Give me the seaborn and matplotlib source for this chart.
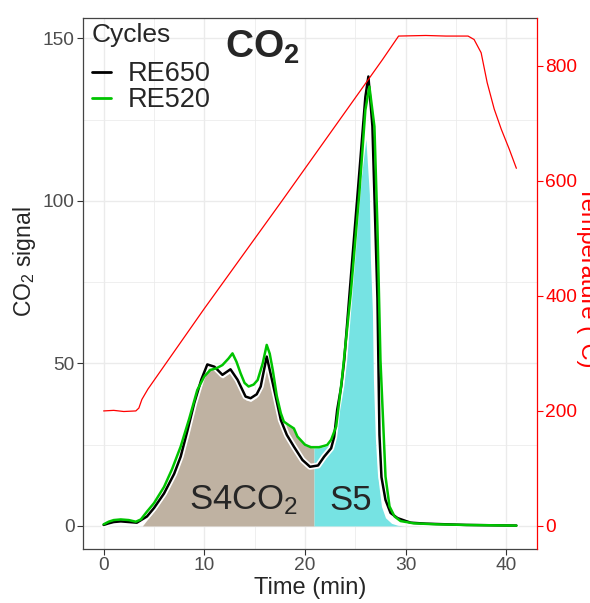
import numpy as np
import pandas as pd
import matplotlib
matplotlib.use("Agg")
import matplotlib.pyplot as plt
import seaborn as sns

# ---------------- data ----------------
cycles = ["RE650", "RE520"]
cycle_colors = ["#000000", "#00C400"]

t_re650 = [0, 0.5, 1.0, 1.7, 2.5, 3.3, 4.3, 5.0, 6.0, 7.0, 7.65, 8.3, 9.0, 9.7,
           10.3, 11.0, 11.8, 12.6, 13.3, 14.1, 14.6, 15.2, 15.6, 16.2, 16.8, 17.6,
           18.2, 18.9, 19.75, 20.5, 21.3, 21.9, 22.6, 22.9, 23.2, 23.6, 23.9, 24.7,
           25.5, 26.0, 26.3, 26.7, 27.2, 27.4, 27.6, 28.0, 28.5, 29.2, 30.5, 32.0,
           34.0, 36.0, 38.5, 41.0]
co2_re650 = [0.3, 0.8, 1.2, 1.4, 1.2, 1.0, 2.9, 5.5, 10.0, 16.0, 21.3, 29.0, 37.8, 45.0,
             49.7, 49.0, 46.5, 48.2, 45.0, 39.8, 39.3, 40.5, 42.9, 52.1, 43.9, 32.6,
             28.0, 24.4, 20.3, 18.2, 18.6, 21.3, 23.9, 27.4, 35.7, 42.9, 51.0, 82.0,
             112.6, 132.0, 138.3, 123.0, 70.0, 28.0, 15.0, 8.0, 4.0, 2.4, 1.0, 0.7,
             0.5, 0.3, 0.2, 0.1]

t_re520 = [0, 0.5, 1.0, 1.7, 2.5, 3.2, 3.7, 4.3, 5.0, 6.0, 6.8, 7.65, 8.5, 9.3, 10.0,
           10.6, 11.2, 11.8, 12.4, 12.8, 13.2, 13.6, 14.0, 14.4, 14.9, 15.3, 15.8,
           16.2, 16.5, 16.8, 17.2, 17.6, 17.9, 18.4, 18.9, 19.25, 20.0, 20.6, 21.4,
           22.2, 22.6, 23.1, 23.7, 24.55, 25.4, 26.0, 26.4, 26.9, 27.2, 27.5, 28.0,
           28.4, 28.9, 29.5, 30.8, 33.0, 36.0, 38.5, 41.0]
co2_re520 = [0.5, 1.3, 1.8, 2.0, 1.8, 1.3, 2.0, 4.4, 7.0, 12.0, 17.5, 24.4, 33.0, 41.8,
             46.0, 48.0, 48.5, 49.5, 51.5, 53.1, 50.5, 47.0, 44.0, 42.9, 43.5, 44.9,
             50.0, 55.7, 53.0, 48.0, 40.0, 34.7, 32.1, 31.0, 30.0, 27.5, 25.0, 24.2,
             24.2, 24.9, 26.5, 30.6, 45.9, 71.6, 102.4, 128.0, 135.2, 122.9, 92.0,
             51.0, 15.2, 6.0, 2.9, 1.5, 0.8, 0.5, 0.3, 0.2, 0.1]

# area S4CO2 (tan) and S5 (cyan)
t_s4 = [3.85, 4.3, 5.0, 6.0, 7.0, 7.65, 8.3, 9.0, 9.7, 10.3, 11.0, 11.8, 12.6, 13.3,
        14.1, 14.6, 15.2, 15.6, 16.2, 16.8, 17.6, 17.9, 18.4, 18.9, 19.25, 20.0, 20.6, 20.9]
s4_co2 = [0.0, 1.8, 4.5, 9.0, 15.0, 20.3, 28.0, 36.8, 44.0, 48.7, 48.0, 45.5, 47.2, 44.0,
          38.8, 38.3, 39.5, 41.9, 51.0, 43.0, 31.6, 31.5, 30.6, 29.8, 27.3, 24.8, 24.0, 23.9]
t_s5 = [20.9, 21.4, 22.2, 22.6, 22.9, 23.2, 23.6, 23.9, 24.7, 25.2, 25.7, 26.05, 26.4,
        26.5, 26.7, 26.8, 27.0, 27.2, 27.6, 28.0, 28.6, 29.2, 29.8]
s5_co2 = [23.9, 24.0, 24.6, 26.2, 26.4, 34.7, 42.0, 50.0, 81.0, 97.0, 110.0, 119.0, 102.0,
          82.0, 66.0, 45.0, 26.5, 16.0, 6.0, 2.5, 0.8, 0.2, 0.0]

t_temp = [0, 1.0, 2.0, 3.2, 3.5, 3.8, 4.4, 10.0, 17.7, 27.7, 29.3, 32.0, 34.0, 36.2,
          36.8, 37.5, 38.1, 38.8, 39.5, 40.3, 41.0]
temp = [200, 201, 199, 200, 205, 220, 238, 378, 565, 811, 852, 853, 852, 852,
        846, 823, 771, 725, 690, 655, 622]

x_ticks = [0, 10, 20, 30, 40]
y_ticks = [0, 50, 100, 150]
temp_ticks = [0, 200, 400, 600, 800]
labels = {"s4": "S4CO$_2$", "s5": "S5"}

# ---------------- style ----------------
sns.set_style("white")
plt.rcParams["font.family"] = ["Liberation Sans", "DejaVu Sans"]
plt.rcParams["mathtext.fontset"] = "custom"
plt.rcParams["mathtext.rm"] = "Liberation Sans"
plt.rcParams["mathtext.it"] = "Liberation Sans:italic"
plt.rcParams["mathtext.bf"] = "Liberation Sans:bold"

W, H = 590, 603
fig = plt.figure(figsize=(W / 100, H / 100), dpi=100)
ax = fig.add_axes([83 / W, 1 - 549 / H, 454 / W, 531 / H])

XLIM = (-2.05, 43.05)
YLIM = (-7.1, 156.3)
K = 5.652  # temperature per CO2 unit

ax.set_xlim(*XLIM)
ax.set_ylim(*YLIM)

grid_col = "#EBEBEB"
ax.set_xticks(x_ticks)
ax.set_yticks(y_ticks)
ax.set_xticks([5, 15, 25, 35], minor=True)
ax.set_yticks([25, 75, 125], minor=True)
ax.grid(which="major", color=grid_col, lw=1.0, zorder=0)
ax.grid(which="minor", color=grid_col, lw=0.55, zorder=0)
ax.set_axisbelow(True)

# areas
ax.fill_between(t_s4, s4_co2, 0, color="#BFB2A2", lw=0, zorder=1)
ax.fill_between(t_s5, s5_co2, 0, color="#76E3E3", lw=0, zorder=1)

# white halo under RE650
sns.lineplot(x=t_re650, y=co2_re650, color="white", lw=4.3, ax=ax,
             estimator=None, sort=False, legend=False)

df = pd.concat([
    pd.DataFrame({"Time": t_re650, "CO2": co2_re650, "Cycles": cycles[0]}),
    pd.DataFrame({"Time": t_re520, "CO2": co2_re520, "Cycles": cycles[1]}),
], ignore_index=True)
sns.lineplot(data=df, x="Time", y="CO2", hue="Cycles", hue_order=cycles,
             palette=dict(zip(cycles, cycle_colors)), lw=1.8, ax=ax,
             estimator=None, sort=False)

ax.text(13.9, 5.0, labels["s4"], fontsize=25, ha="center", va="baseline", zorder=5)
ax.text(24.5, 5.0, labels["s5"], fontsize=25, ha="center", va="baseline", zorder=5)

ax.set_xlabel("")
ax.set_ylabel("")
tick_gray = "#4D4D4D"
ax.tick_params(axis="both", which="major", length=4, width=0.8, color="#333333",
               labelsize=13.8, labelcolor=tick_gray, pad=2, left=True, bottom=True)
ax.tick_params(axis="both", which="minor", length=0)
for s in ["top", "bottom", "left"]:
    ax.spines[s].set_color("#444444")
    ax.spines[s].set_linewidth(0.9)
ax.spines["right"].set_visible(False)

leg = ax.legend(loc="upper left", bbox_to_anchor=(0.02, (549 - 61) / 531),
                frameon=False, fontsize=19.5, handlelength=0.7,
                handletextpad=0.6, labelspacing=0.0, borderpad=0.0,
                borderaxespad=0.0)
for ln in leg.get_lines():
    ln.set_linewidth(2.0)

# secondary axis (temperature)
ax2 = ax.twinx()
ax2.set_ylim(YLIM[0] * K, YLIM[1] * K)
sns.lineplot(x=t_temp, y=temp, color="#FF0000", lw=0.9, ax=ax2,
             estimator=None, sort=False, legend=False)
ax2.set_xlim(*XLIM)
ax2.set_yticks(temp_ticks)
ax2.set_ylabel("")
ax2.grid(False)
ax2.tick_params(axis="y", length=4, width=0.8, color="#FF0000", labelcolor="#FF0000",
                labelsize=13.8, pad=2, right=True)
for s in ["top", "bottom", "left"]:
    ax2.spines[s].set_visible(False)
ax2.spines["right"].set_color("#FF0000")
ax2.spines["right"].set_linewidth(0.9)

# titles
fig.text(92 / W, 1 - 41.7 / H, "Cycles", fontsize=19, ha="left", va="baseline")
fig.text(310 / W, 1 - 594 / H, "Time (min)", fontsize=17, ha="center", va="baseline")
fig.text(31.5 / W, 1 - 262 / H, "CO$_2$ signal", fontsize=16.5, rotation=90,
         rotation_mode="anchor", ha="center", va="baseline")
fig.text(581.5 / W, 1 - 277 / H, "Temperature (°C)", fontsize=17, color="#FF0000",
         rotation=270, rotation_mode="anchor", ha="center", va="baseline")
fig.text(225 / W, 1 - 58 / H, r"$\mathbf{CO_2}$", fontsize=28, ha="left", va="baseline")

fig.savefig("out.png", dpi=100)
